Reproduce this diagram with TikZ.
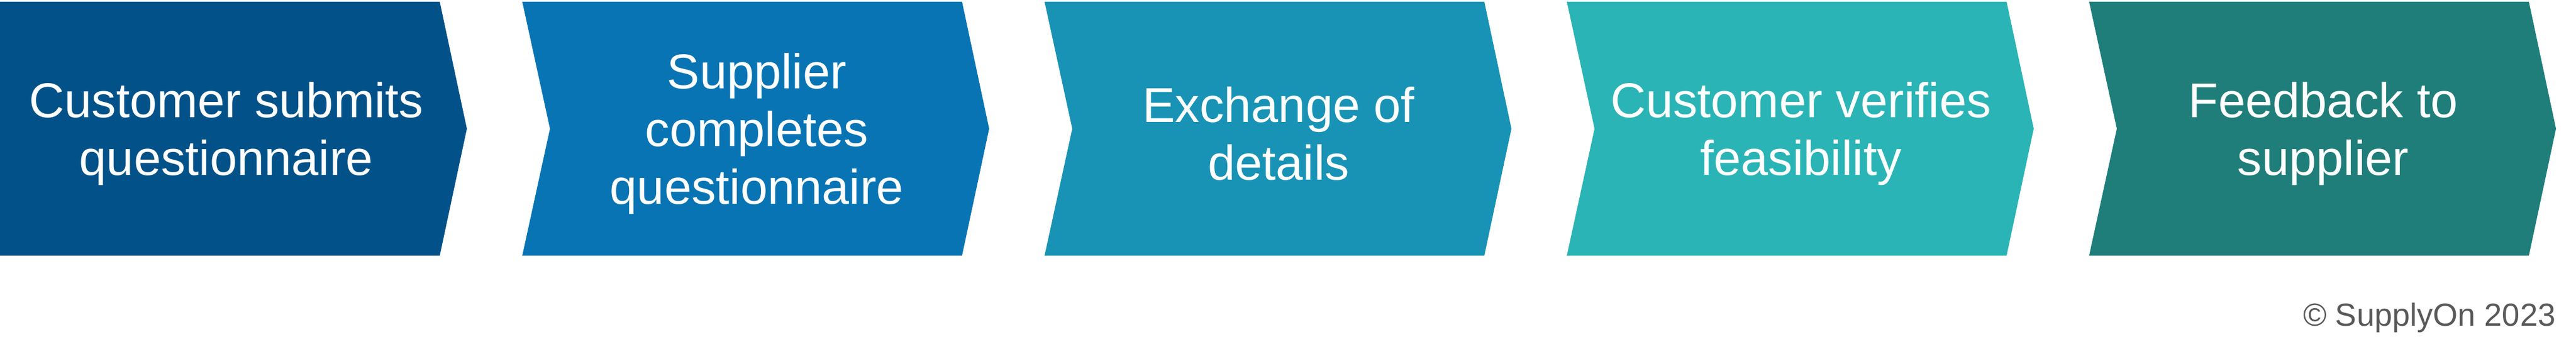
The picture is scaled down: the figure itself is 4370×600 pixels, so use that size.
\documentclass[tikz,border=0pt]{standalone}
\usepackage{fontspec}
\setmainfont{Liberation Sans}
\usetikzlibrary{positioning}

\definecolor{chevA}{RGB}{2,82,137}
\definecolor{chevB}{RGB}{8,116,180}
\definecolor{chevC}{RGB}{24,147,181}
\definecolor{chevD}{RGB}{42,180,181}
\definecolor{chevE}{RGB}{31,126,121}
\definecolor{notegray}{RGB}{89,89,89}

\tikzset{
  steptext/.style={text=white, align=center, inner sep=0pt,
    font=\fontsize{23.6}{27.8}\selectfont},
  copynote/.style={text=notegray, inner sep=0pt, anchor=base east,
    font=\fontsize{15.4}{18}\selectfont}
}

\begin{document}
\begin{tikzpicture}[x=0.01cm,y=0.01cm]
  \useasboundingbox (0,0) rectangle (4370,600);

  % Prozessschritte
  \foreach \x/\d/\cx/\col/\name/\txt in {
      0/0/384/chevA/submit/{Customer submits\\questionnaire},
      886/47/1284/chevB/complete/{Supplier\\completes\\questionnaire},
      1772/47/2169/chevC/exchange/{Exchange of\\details},
      2658/47/3055/chevD/verify/{Customer verifies\\feasibility},
      3544/47/3941/chevE/feedback/{Feedback to\\supplier}} {
    \fill[\col] (\x,597) -- ++(746,0) -- ++(46,-215.5) -- ++(-46,-215.5)
      -- ++(-746,0) -- ++(\d,215.5) -- cycle;
    \node[steptext] (\name) at (\cx,373) {\txt};
  }

  % Copyright
  \node[copynote] (copyright) at (4336,46) {© SupplyOn 2023};

\end{tikzpicture}
\end{document}
